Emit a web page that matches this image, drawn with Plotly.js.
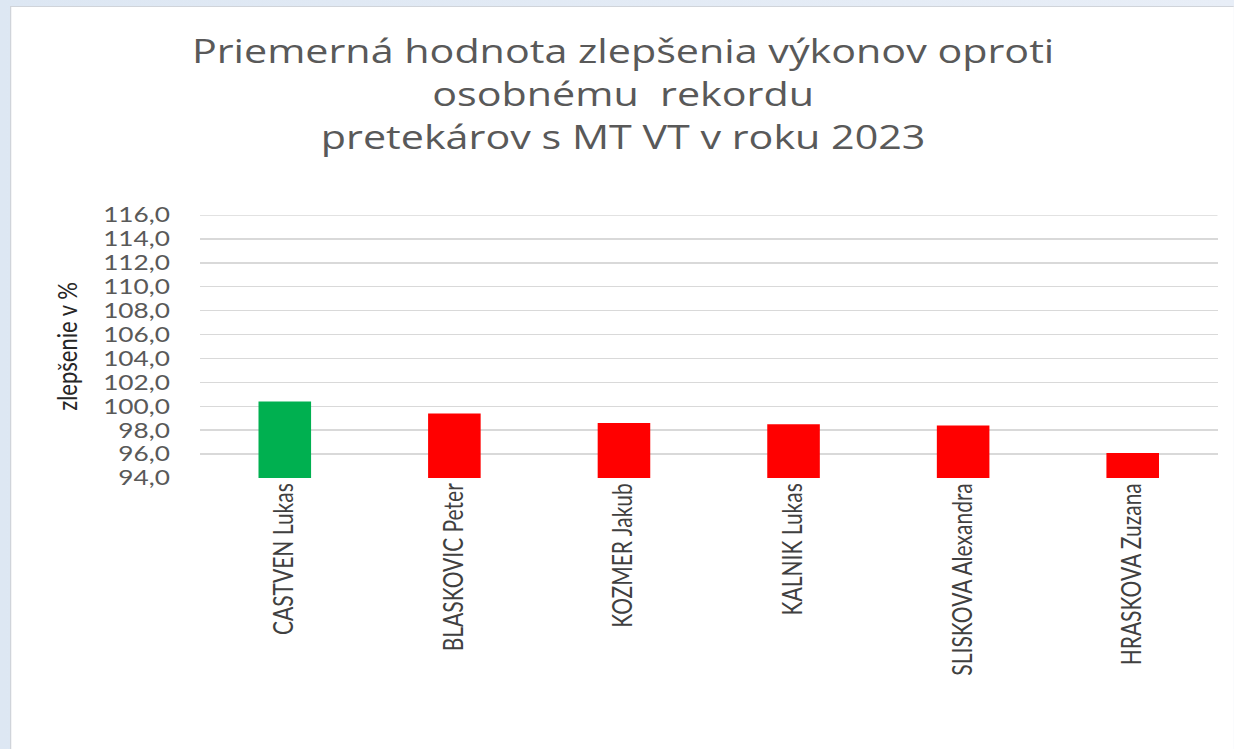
<!DOCTYPE html>
<html>
<head>
<meta charset="utf-8">
<script src="https://cdn.plot.ly/plotly-3.0.1.min.js"></script>
<style>
  html, body { margin: 0; padding: 0; width: 1234px; height: 749px; overflow: hidden;
    background: linear-gradient(90deg, #dde7f3, #e8eef7); }
  /* the reference chart is a horizontally stretched Excel picture: draw it narrower and stretch it the same way */
  #chart { position: absolute; left: 10px; top: 6px; width: 979px; height: 743px; background: #fff;
    transform: scaleX(1.25); transform-origin: 0 0;
    border-left: 1px solid #d0d4da; border-top: 1px solid #d0d4da; box-sizing: border-box; }
</style>
</head>
<body>
<div id="chart"></div>
<script>
const categories = ["CASTVEN Lukas", "BLASKOVIC Peter", "KOZMER Jakub", "KALNIK Lukas", "SLISKOVA Alexandra", "HRASKOVA Zuzana"];
const values = [100.4, 99.4, 98.6, 98.5, 98.4, 96.1];
const barColors = ["#00b050", "#ff0000", "#ff0000", "#ff0000", "#ff0000", "#ff0000"];
const titleText = "Priemerná hodnota zlepšenia výkonov oproti<br>osobnému  rekordu<br>pretekárov s MT VT v roku 2023";
const yTitle = "zlepšenie v %";
const axisBase = 94;
const axisTop = 116;

const trace = {
  type: "bar",
  x: categories,
  y: values.map(v => v - axisBase),
  base: axisBase,
  marker: { color: barColors },
  customdata: values,
  hovertemplate: "%{x}: %{customdata:.1f}<extra></extra>"
};

const layout = {
  width: 979,
  height: 743,
  margin: { l: 151, r: 14, t: 208, b: 272 },
  paper_bgcolor: "rgba(0,0,0,0)",
  plot_bgcolor: "#ffffff",
  separators: ",.",
  showlegend: false,
  bargap: 0.69,
  title: {
    text: titleText,
    font: { family: "Open Sans, Noto Sans, sans-serif", size: 33, color: "#595959" },
    x: 0.5, xanchor: "center",
    y: 1 - 56 / 743, yanchor: "top", yref: "container"
  },
  xaxis: {
    type: "category",
    tickangle: -90,
    tickfont: { family: "Lato, Noto Sans, sans-serif", size: 21, color: "#404040" },
    showgrid: false,
    showline: false,
    ticks: "",
    zeroline: false
  },
  yaxis: {
    range: [axisBase, axisTop],
    tick0: axisBase,
    dtick: 2,
    tickformat: ".1f",
    tickfont: { family: "Lato, Noto Sans, sans-serif", size: 21, color: "#595959" },
    gridcolor: "#d9d9d9",
    gridwidth: 1.5,
    showline: false,
    zeroline: false,
    ticks: "",
    ticklabelstandoff: 23,
    title: {
      text: yTitle,
      font: { family: "Lato, Noto Sans, sans-serif", size: 22, color: "#262626" },
      standoff: 14
    }
  },
  shapes: [{
    type: "line", xref: "paper", yref: "y",
    x0: 0, x1: 1, y0: axisTop, y1: axisTop,
    line: { color: "#d9d9d9", width: 1.5 },
    layer: "below"
  }]
};

Plotly.newPlot("chart", [trace], layout, { displayModeBar: false, staticPlot: true });
</script>
</body>
</html>
